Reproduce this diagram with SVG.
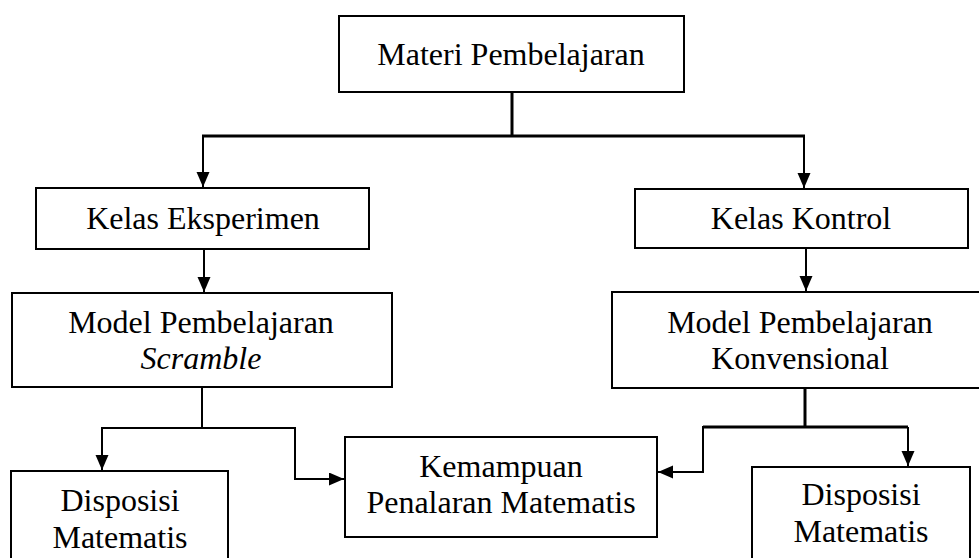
<svg xmlns="http://www.w3.org/2000/svg" width="979" height="558" viewBox="0 0 979 558">
<style>
.box{fill:#fff;stroke:#000;stroke-width:2}
.t{font-family:"Liberation Serif","Times New Roman",serif;font-size:32px;fill:#000;text-anchor:middle}
.c{fill:none;stroke:#000;stroke-width:2}
.thick{stroke-width:3}
</style>
<defs>
<marker id="ah" markerUnits="userSpaceOnUse" markerWidth="16" markerHeight="14" refX="15" refY="6.5" orient="auto">
<path d="M0,0 L15,6.5 L0,13 z" fill="#000"/>
</marker>
</defs>
<rect width="979" height="558" fill="#fff"/>
<g id="connectors">
<path class="c thick" d="M512,92 V136"/>
<path class="c thick" d="M202,136 H805"/>
<path class="c" d="M203,136 V187" marker-end="url(#ah)"/>
<path class="c" d="M804,136 V188" marker-end="url(#ah)"/>
<path class="c" d="M204,249 V292" marker-end="url(#ah)"/>
<path class="c" d="M806,248 V291" marker-end="url(#ah)"/>
<path class="c" d="M202,387 V428 H102 V470" marker-end="url(#ah)"/>
<path class="c" d="M202,428 H295 V479 H344" marker-end="url(#ah)"/>
<path class="c thick" d="M805,388 V428"/>
<path class="c thick" d="M703,427 H908"/>
<path class="c" d="M908,427 V466" marker-end="url(#ah)"/>
<path class="c" d="M703,426 V472 H658" marker-end="url(#ah)"/>
</g>
<g id="materi">
<rect class="box" x="339" y="16" width="345" height="76"/>
<text class="t" x="511" y="65">Materi Pembelajaran</text>
</g>
<g id="eksperimen">
<rect class="box" x="36" y="188" width="333" height="61"/>
<text class="t" x="203" y="229">Kelas Eksperimen</text>
</g>
<g id="kontrol">
<rect class="box" x="635" y="189" width="333" height="59"/>
<text class="t" x="801" y="229">Kelas Kontrol</text>
</g>
<g id="scramble">
<rect class="box" x="12" y="293" width="380" height="94"/>
<text class="t" x="201" y="333">Model Pembelajaran</text>
<text class="t" x="201" y="369" font-style="italic">Scramble</text>
</g>
<g id="konvensional">
<rect class="box" x="612" y="292" width="376" height="96"/>
<text class="t" x="800" y="333">Model Pembelajaran</text>
<text class="t" x="800" y="369">Konvensional</text>
</g>
<g id="disposisi1">
<rect class="box" x="11" y="471" width="217" height="100"/>
<text class="t" x="120" y="511">Disposisi</text>
<text class="t" x="120" y="548">Matematis</text>
</g>
<g id="kemampuan">
<rect class="box" x="345" y="437" width="312" height="100"/>
<text class="t" x="501" y="477">Kemampuan</text>
<text class="t" x="501" y="513">Penalaran Matematis</text>
</g>
<g id="disposisi2">
<rect class="box" x="752" y="467" width="218" height="100"/>
<text class="t" x="861" y="505">Disposisi</text>
<text class="t" x="861" y="542">Matematis</text>
</g>
</svg>
